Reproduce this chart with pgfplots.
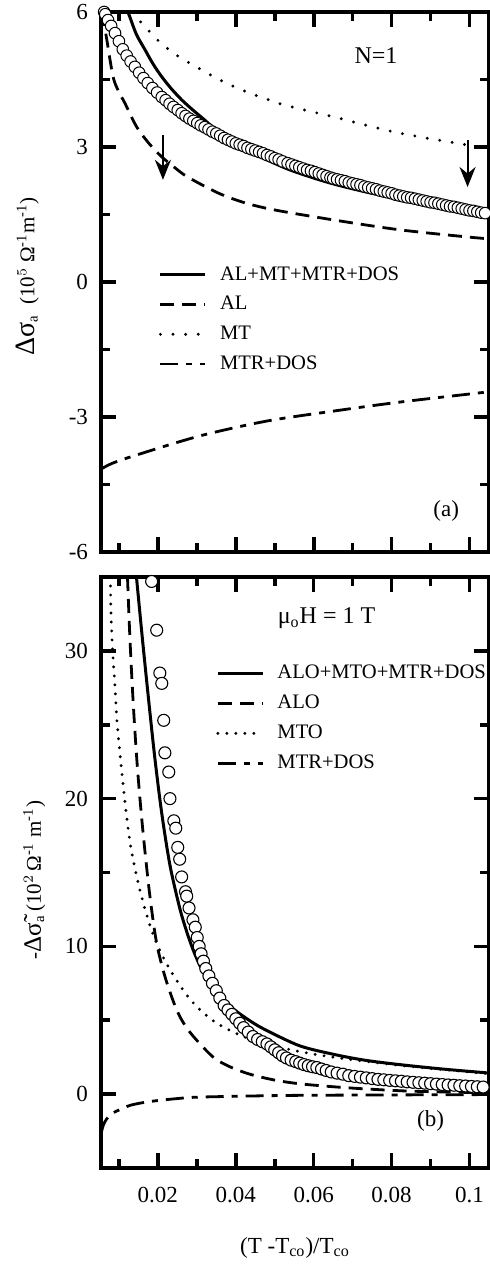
\documentclass[border=0pt]{standalone}
\usepackage{fontspec}
\setmainfont{Liberation Serif}
\usepackage{pgfplots}
\usepackage{pgfplotstable}
\pgfplotsset{compat=1.18}
\usetikzlibrary{arrows.meta}

% ---------- panel (a) ----------
\pgfplotstableread{
x y
0.0062 6.00
0.0065 5.95
0.0072 5.82
0.0080 5.69
0.0090 5.53
0.0100 5.35
0.0110 5.17
0.0120 5.03
0.0130 4.90
0.0141 4.78
0.0152 4.65
0.0163 4.53
0.0174 4.42
0.0186 4.31
0.0198 4.21
0.0210 4.11
0.0220 4.04
0.0230 3.96
0.0240 3.89
0.0251 3.82
0.0261 3.75
0.0271 3.69
0.0281 3.63
0.0291 3.58
0.0301 3.53
0.0310 3.48
0.0320 3.44
0.0330 3.39
0.0340 3.34
0.0350 3.30
0.0360 3.25
0.0370 3.20
0.0380 3.16
0.0390 3.12
0.0400 3.08
0.0410 3.05
0.0420 3.02
0.0430 2.98
0.0440 2.95
0.0450 2.92
0.0460 2.89
0.0470 2.86
0.0480 2.82
0.0490 2.79
0.0500 2.75
0.0510 2.72
0.0520 2.68
0.0533 2.64
0.0543 2.61
0.0553 2.58
0.0563 2.55
0.0573 2.52
0.0583 2.49
0.0593 2.47
0.0603 2.44
0.0613 2.41
0.0623 2.38
0.0633 2.35
0.0643 2.32
0.0650 2.30
0.0660 2.28
0.0670 2.26
0.0680 2.24
0.0690 2.21
0.0700 2.19
0.0710 2.17
0.0720 2.15
0.0730 2.12
0.0740 2.10
0.0750 2.08
0.0760 2.06
0.0770 2.03
0.0780 2.01
0.0790 1.99
0.0800 1.97
0.0810 1.94
0.0820 1.92
0.0830 1.90
0.0840 1.88
0.0850 1.87
0.0860 1.85
0.0870 1.83
0.0880 1.81
0.0890 1.79
0.0900 1.77
0.0910 1.76
0.0920 1.74
0.0930 1.72
0.0940 1.70
0.0950 1.68
0.0960 1.67
0.0970 1.65
0.0980 1.63
0.0990 1.61
0.1000 1.59
0.1010 1.58
0.1020 1.56
0.1030 1.54
0.1040 1.53
}\dataA

\pgfplotstableread{
x y
0.0123 6.00
0.0128 5.89
0.0145 5.50
0.0167 5.16
0.0188 4.84
0.0210 4.56
0.0235 4.29
0.0262 4.04
0.0290 3.82
0.0320 3.60
0.0350 3.37
0.0380 3.18
0.0420 2.98
0.0467 2.77
0.0533 2.51
0.0600 2.31
0.0650 2.18
0.0700 2.07
0.0750 1.97
0.0820 1.85
0.0900 1.69
0.0965 1.57
0.1026 1.47
0.1050 1.44
}\totA

\pgfplotstableread{
x y
0.0058 6.00
0.0062 5.75
0.0069 5.38
0.0085 4.56
0.0100 4.22
0.0115 3.98
0.0146 3.44
0.0180 3.05
0.0210 2.78
0.0245 2.53
0.0277 2.33
0.0354 1.98
0.0423 1.76
0.0500 1.60
0.0650 1.38
0.0820 1.16
0.0995 1.00
0.1050 0.96
}\alA

\pgfplotstableread{
x y
0.0136 6.00
0.0150 5.84
0.0167 5.67
0.0205 5.33
0.0238 5.10
0.0274 4.90
0.0313 4.71
0.0346 4.55
0.0380 4.40
0.0415 4.27
0.0454 4.14
0.0487 4.04
0.0526 3.93
0.0650 3.67
0.0820 3.31
0.1026 3.00
0.1050 2.97
}\mtA

\pgfplotstableread{
x y
0.0054 -4.16
0.0080 -4.04
0.0136 -3.87
0.0308 -3.42
0.0480 -3.09
0.0650 -2.87
0.0820 -2.67
0.1040 -2.45
0.1050 -2.44
}\mtrA

% ---------- panel (b) ----------
\pgfplotstableread{
x y
0.0184 34.7
0.0197 31.4
0.0205 28.5
0.0210 27.8
0.0215 25.3
0.0218 23.1
0.0228 21.8
0.0231 20.0
0.0241 18.5
0.0246 18.0
0.0251 16.7
0.0256 15.9
0.0261 14.7
0.0271 13.7
0.0274 13.4
0.0280 12.6
0.0290 11.8
0.0296 11.3
0.0301 10.6
0.0306 10.0
0.0311 9.5
0.0317 9.0
0.0323 8.5
0.0331 8.0
0.0340 7.5
0.0350 7.0
0.0359 6.5
0.0370 6.0
0.0380 5.7
0.0390 5.4
0.0400 5.1
0.0410 4.8
0.0420 4.5
0.0432 4.2
0.0444 3.9
0.0456 3.7
0.0468 3.55
0.0480 3.4
0.0490 3.2
0.0500 3.0
0.0510 2.8
0.0520 2.6
0.0530 2.45
0.0542 2.3
0.0554 2.2
0.0564 2.1
0.0575 2.0
0.0586 1.92
0.0597 1.85
0.0608 1.8
0.0620 1.7
0.0632 1.6
0.0645 1.5
0.0660 1.42
0.0675 1.35
0.0690 1.25
0.0705 1.2
0.0720 1.15
0.0735 1.1
0.0750 1.05
0.0765 1.0
0.0780 0.97
0.0795 0.93
0.0810 0.9
0.0825 0.87
0.0840 0.83
0.0855 0.8
0.0870 0.77
0.0885 0.74
0.0900 0.71
0.0915 0.68
0.0930 0.65
0.0945 0.62
0.0960 0.6
0.0975 0.57
0.0990 0.55
0.1005 0.52
0.1020 0.5
0.1035 0.48
}\dataB

\pgfplotstableread{
x y
0.0145 35.0
0.0160 30.9
0.0175 27.0
0.0192 22.8
0.0210 19.0
0.0231 15.5
0.0256 12.6
0.0274 11.0
0.0290 9.8
0.0308 8.7
0.0330 7.7
0.0350 7.0
0.0390 5.85
0.0440 4.9
0.0480 4.3
0.0564 3.27
0.0650 2.7
0.0730 2.3
0.0820 2.0
0.0930 1.7
0.1040 1.45
0.1050 1.43
}\totB

\pgfplotstableread{
x y
0.0122 35.0
0.0128 31.0
0.0136 26.8
0.0145 23.0
0.0154 20.0
0.0165 16.9
0.0180 13.3
0.0197 10.2
0.0220 7.8
0.0250 5.6
0.0282 4.2
0.0340 2.55
0.0385 1.85
0.0436 1.35
0.0500 0.95
0.0564 0.7
0.0650 0.5
0.0735 0.35
0.0850 0.2
0.1026 0.1
0.1050 0.09
}\alB

\pgfplotstableread{
x y
0.0078 35.0
0.0080 32.2
0.0085 29.5
0.0090 27.6
0.0094 25.6
0.0100 23.8
0.0105 22.4
0.0115 19.9
0.0130 16.8
0.0154 13.8
0.0185 11.0
0.0223 8.8
0.0280 6.5
0.0340 5.0
0.0410 4.0
0.0480 3.4
0.0560 2.9
0.0650 2.5
0.0820 1.95
0.1040 1.4
0.1050 1.38
}\mtB

\pgfplotstableread{
x y
0.0054 -2.7
0.0060 -2.1
0.0068 -1.7
0.0080 -1.35
0.0094 -1.15
0.0130 -0.75
0.0180 -0.5
0.0250 -0.3
0.0308 -0.2
0.0500 -0.1
0.0650 -0.07
0.1050 -0.03
}\mtrB

\pgfplotsset{
  panel/.style={
    scale only axis, width=194pt,
    xmin=0.0054, xmax=0.105,
    xtick={0.02,0.04,0.06,0.08,0.1},
    minor xtick={0.01,0.03,0.05,0.07,0.09},
    major tick length=7.5pt,
    minor tick length=4.5pt,
    xtick style={black, line width=1.8pt},
    ytick style={black, line width=1.8pt},
    axis line style={line width=1.9pt},
    ticklabel style={font=\fontsize{11.5}{13}\selectfont},
    yticklabel style={xshift=-3pt},
    legend cell align=left,
    legend style={draw=none, fill=none, font=\fontsize{10.3}{12}\selectfont,
      inner sep=0pt, row sep=2.6pt, anchor=north west,
      /tikz/every odd column/.append style={column sep=4.5pt}},
    legend image code/.code={\draw[##1] (0pt,0pt) -- (22.5pt,0pt);},
    label style={font=\fontsize{10.5}{13}\selectfont},
    /pgf/number format/assume math mode=true,
  },
  solidc/.style={black, line width=1.5pt},
  dashedc/.style={black, line width=1.4pt, dash pattern=on 7pt off 4pt},
  dottedA/.style={black, line width=1.6pt, line cap=round, dash pattern=on 0pt off 6.3pt},
  dottedB/.style={black, line width=1.6pt, line cap=round, dash pattern=on 0pt off 4.5pt},
  dashdotc/.style={black, line width=1.4pt, dash pattern=on 9pt off 4pt on 3pt off 4pt},
}

\begin{document}
\begin{tikzpicture}
\path[use as bounding box] (-50.5pt,-50pt) rectangle (194.5pt,584pt);
% ---------------- bottom panel (b) ----------------
\begin{axis}[panel, name=bot, at={(0,0)}, anchor=south west,
  height=295.5pt,
  ymin=-5, ymax=35,
  ytick={0,10,20,30}, minor ytick={-5,5,15,25,35},
  xticklabels={0.02,0.04,0.06,0.08,0.1},
  xticklabel style={yshift=-6pt},
  xlabel={(T -T$_{\mathrm{co}}$)/T$_{\mathrm{co}}$},
  xlabel style={at={(rel axis cs:0.5,-0.135)}, anchor=center, font=\fontsize{11.5}{13}\selectfont},
  ylabel={-{\fontsize{12.5}{13}\selectfont Δ\~{σ}}$_{\mathrm{a}}$\,(10$^{2}$\,Ω\textsuperscript{-1} m\textsuperscript{-1})},
  ylabel style={at={(rel axis cs:-0.172,0.487)}, anchor=center},
  legend style={at={(rel axis cs:0.296,0.858)}},
]
\addplot[only marks, mark=*, mark size=3pt, mark options={fill=white, draw=black, line width=0.55pt}, forget plot] table {\dataB};
\addplot[solidc, smooth] table {\totB};
\addlegendentry{ALO+MTO+MTR+DOS}
\addplot[dashedc, smooth] table {\alB};
\addlegendentry{ALO}
\addplot[dottedB, smooth] table {\mtB};
\addlegendentry{MTO}
\addplot[dashdotc, smooth] table {\mtrB};
\addlegendentry{MTR+DOS}
\node[font=\fontsize{12}{13}\selectfont] at (axis cs:0.0633,32.2) {μ$_{\mathrm{o}}$H = 1 T};
\node[font=\fontsize{11.5}{13}\selectfont] at (axis cs:0.0900,-1.84) {(b)};
\end{axis}

% ---------------- top panel (a) ----------------
\begin{axis}[panel, name=top, at={(0,308pt)}, anchor=south west,
  height=270pt,
  ymin=-6, ymax=6,
  ytick={-6,-3,0,3,6}, minor ytick={-4.5,-1.5,1.5,4.5},
  xticklabels={},
  ylabel={{\fontsize{14}{14}\selectfont Δσ}$_{\mathrm{a}}$\ \ (10$^{5}$ Ω\textsuperscript{-1}m\textsuperscript{-1})},
  ylabel style={at={(rel axis cs:-0.19,0.51)}, anchor=center},
  legend style={at={(rel axis cs:0.148,0.537)}},
]
\addplot[only marks, mark=*, mark size=2.9pt, mark options={fill=white, draw=black, line width=0.5pt}, forget plot] table {\dataA};
\addplot[solidc, smooth] table {\totA};
\addlegendentry{AL+MT+MTR+DOS}
\addplot[dashedc, smooth] table {\alA};
\addlegendentry{AL}
\addplot[dottedA, smooth] table {\mtA};
\addlegendentry{MT}
\addplot[dashdotc, smooth] table {\mtrA};
\addlegendentry{MTR+DOS}
\draw[line width=1pt, -{Stealth[length=10pt, width=8pt]}] (axis cs:0.0213,3.27) -- (axis cs:0.0213,2.27);
\draw[line width=1pt, -{Stealth[length=10pt, width=8pt]}] (axis cs:0.0995,3.15) -- (axis cs:0.0995,2.11);
\node[font=\fontsize{12}{13}\selectfont] at (axis cs:0.076,5.04) {N=1};
\node[font=\fontsize{11.5}{13}\selectfont] at (axis cs:0.094,-5.09) {(a)};
\end{axis}
\end{tikzpicture}
\end{document}
